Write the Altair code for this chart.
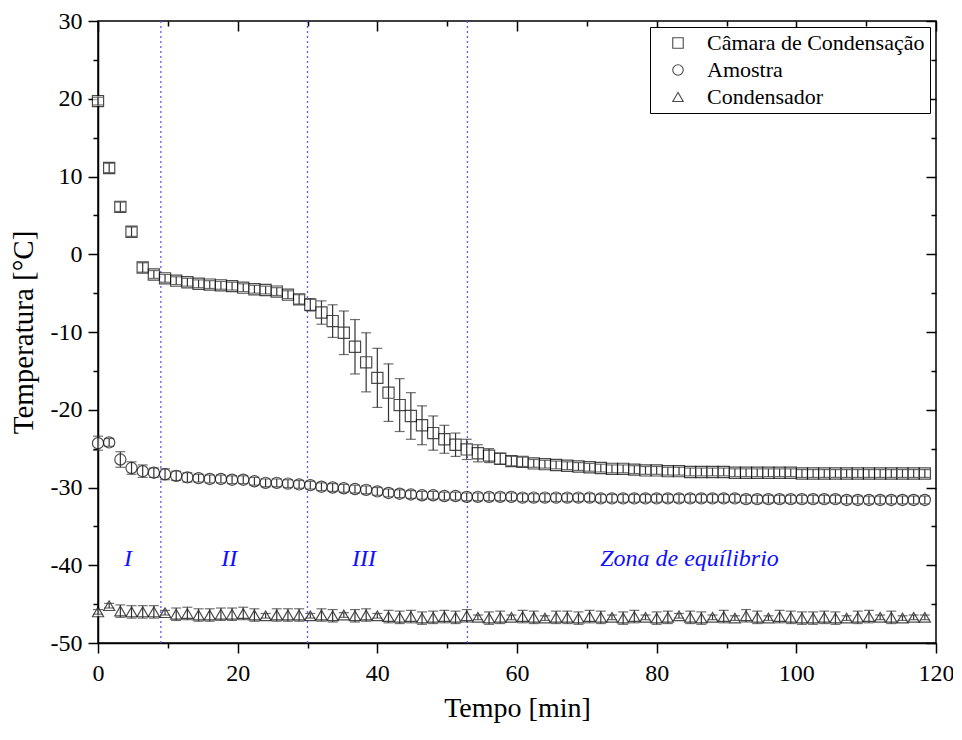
import altair as alt
import pandas as pd

# ---------------- data ----------------
tempo = [0.0, 1.6, 3.2, 4.8, 6.4, 8.0, 9.6, 11.2, 12.8, 14.4,
         16.0, 17.6, 19.2, 20.8, 22.4, 24.0, 25.6, 27.2, 28.8, 30.4,
         32.0, 33.6, 35.2, 36.8, 38.4, 40.0, 41.6, 43.2, 44.8, 46.4,
         48.0, 49.6, 51.2, 52.8, 54.4, 56.0, 57.6, 59.2, 60.8, 62.4,
         64.0, 65.6, 67.2, 68.8, 70.4, 72.0, 73.6, 75.2, 76.8, 78.4,
         80.0, 81.6, 83.2, 84.8, 86.4, 88.0, 89.6, 91.2, 92.8, 94.4,
         96.0, 97.6, 99.2, 100.8, 102.4, 104.0, 105.6, 107.2, 108.8, 110.4,
         112.0, 113.6, 115.2, 116.8, 118.4]

camara = [19.7, 11.1, 6.1, 2.9, -1.7, -2.6, -3.1, -3.4, -3.6, -3.8,
          -3.9, -4.0, -4.1, -4.3, -4.5, -4.6, -4.8, -5.2, -5.8, -6.5,
          -7.5, -8.6, -10.1, -11.9, -13.9, -15.9, -17.8, -19.4, -20.8, -22.0,
          -23.0, -23.8, -24.5, -25.1, -25.6, -25.9, -26.3, -26.6, -26.7, -26.9,
          -27.0, -27.1, -27.2, -27.3, -27.4, -27.5, -27.6, -27.6, -27.7, -27.8,
          -27.8, -27.9, -27.9, -28.0, -28.0, -28.0, -28.0, -28.1, -28.1, -28.1,
          -28.1, -28.1, -28.1, -28.2, -28.2, -28.2, -28.2, -28.2, -28.2, -28.2,
          -28.2, -28.2, -28.2, -28.2, -28.2]
camara_err = [0.5, 0.6, 0.6, 0.6, 0.6, 0.5, 0.5, 0.5, 0.5, 0.5,
              0.5, 0.5, 0.5, 0.5, 0.5, 0.5, 0.5, 0.5, 0.6, 0.8,
              1.5, 2.1, 2.8, 3.5, 3.8, 3.8, 3.7, 3.4, 3.0, 2.5,
              2.2, 1.8, 1.5, 1.3, 1.1, 0.9, 0.7, 0.6, 0.6, 0.5,
              0.5, 0.5, 0.5, 0.5, 0.5, 0.5, 0.5, 0.5, 0.5, 0.5,
              0.5, 0.5, 0.5, 0.5, 0.5, 0.5, 0.5, 0.5, 0.5, 0.5,
              0.5, 0.5, 0.5, 0.5, 0.5, 0.5, 0.5, 0.5, 0.5, 0.5,
              0.5, 0.5, 0.5, 0.5, 0.5]

amostra = [-24.3, -24.2, -26.4, -27.5, -27.9, -28.1, -28.3, -28.5, -28.7, -28.8,
           -28.9, -28.9, -29.0, -29.0, -29.2, -29.4, -29.4, -29.5, -29.6, -29.7,
           -29.9, -30.0, -30.1, -30.2, -30.3, -30.5, -30.7, -30.8, -30.9, -31.0,
           -31.0, -31.1, -31.1, -31.2, -31.2, -31.2, -31.2, -31.2, -31.3, -31.3,
           -31.3, -31.3, -31.3, -31.3, -31.3, -31.4, -31.4, -31.4, -31.4, -31.4,
           -31.4, -31.4, -31.4, -31.4, -31.4, -31.4, -31.4, -31.4, -31.5, -31.5,
           -31.5, -31.5, -31.5, -31.5, -31.5, -31.5, -31.5, -31.6, -31.6, -31.6,
           -31.6, -31.6, -31.6, -31.6, -31.6]
amostra_err = [0.9, 0.5, 1.0, 0.8, 0.8, 0.6, 0.7, 0.6, 0.6, 0.5,
               0.5, 0.5, 0.5, 0.5, 0.5, 0.5, 0.5, 0.5, 0.5, 0.5,
               0.5, 0.5, 0.5, 0.5, 0.5, 0.5, 0.5, 0.5, 0.5, 0.5,
               0.5, 0.5, 0.5, 0.5, 0.5, 0.5, 0.5, 0.5, 0.5, 0.5,
               0.5, 0.5, 0.5, 0.5, 0.5, 0.5, 0.5, 0.5, 0.5, 0.5,
               0.5, 0.5, 0.5, 0.5, 0.5, 0.5, 0.5, 0.5, 0.5, 0.5,
               0.5, 0.5, 0.5, 0.5, 0.5, 0.5, 0.5, 0.5, 0.5, 0.5,
               0.5, 0.5, 0.5, 0.5, 0.5]

condensador = [-46.0, -45.2, -45.9, -46.0, -46.0, -46.0, -46.1, -46.3, -46.2, -46.4,
               -46.4, -46.3, -46.3, -46.2, -46.4, -46.5, -46.4, -46.4, -46.4, -46.5,
               -46.4, -46.5, -46.4, -46.5, -46.4, -46.5, -46.6,
               -46.7, -46.6, -46.8, -46.7, -46.6, -46.7, -46.5, -46.7,
               -46.8, -46.7, -46.7, -46.6, -46.7, -46.8, -46.7, -46.7,
               -46.8, -46.6, -46.7, -46.7, -46.8, -46.6, -46.7, -46.8,
               -46.7, -46.5, -46.7, -46.8, -46.7, -46.6, -46.8, -46.5,
               -46.7, -46.8, -46.6, -46.7, -46.8, -46.8, -46.7, -46.8,
               -46.8, -46.7, -46.6, -46.7, -46.7, -46.8, -46.7, -46.7]
condensador_err = [0.3, 0.3, 0.8, 0.8, 0.8, 0.8, 0.3, 0.8, 0.8, 0.8,
                   0.8, 0.8, 0.8, 0.8, 0.8, 0.3, 0.8, 0.8, 0.8, 0.3,
                   0.8, 0.8, 0.3, 0.8, 0.8, 0.3, 0.8,
                   0.8, 0.8, 0.8, 0.8, 0.8, 0.8, 0.8, 0.3,
                   0.8, 0.8, 0.3, 0.8, 0.8, 0.3, 0.8, 0.8,
                   0.8, 0.8, 0.8, 0.3, 0.8, 0.8, 0.3, 0.8,
                   0.8, 0.3, 0.8, 0.8, 0.3, 0.8, 0.3, 0.8,
                   0.8, 0.3, 0.8, 0.8, 0.8, 0.8, 0.8, 0.8,
                   0.3, 0.8, 0.8, 0.3, 0.8, 0.3, 0.3, 0.3]

series_names = ["Câmara de Condensação", "Amostra", "Condensador"]
series_shapes = ["square", "circle", "triangle-up"]

boundaries = [9.0, 30.0, 52.9]
zone_labels = ["I", "II", "III", "Zona de equílibrio"]
zone_t = [4.3, 18.8, 38.1, 84.7]
zone_T = [-39.2, -39.2, -39.2, -39.2]

x_ticks = [0, 10, 20, 30, 40, 50, 60, 70, 80, 90, 100, 110, 120]
y_ticks = [-50, -45, -40, -35, -30, -25, -20, -15, -10, -5, 0, 5, 10, 15, 20, 25, 30]
x_major = [0, 20, 40, 60, 80, 100, 120]
x_minor = [10, 30, 50, 70, 90, 110]
y_major = [-50, -40, -30, -20, -10, 0, 10, 20, 30]
y_minor = [-45, -35, -25, -15, -5, 5, 15, 25]

# ---------------- tables ----------------
rows = []
for name, vals, errs in zip(series_names,
                            [camara, amostra, condensador],
                            [camara_err, amostra_err, condensador_err]):
    for t, v, e in zip(tempo, vals, errs):
        rows.append({"t": t, "T": v, "lo": v - e, "hi": v + e, "serie": name})
df = pd.DataFrame(rows)
df_b = pd.DataFrame({"t": boundaries})
df_z = pd.DataFrame({"t": zone_t, "T": zone_T, "txt": zone_labels})

FONT = "Liberation Serif"
xs = alt.Scale(domain=[0, 120], nice=False, zero=False)
ys = alt.Scale(domain=[-50, 30], nice=False, zero=False)
W, H = 838, 622

vlines = alt.Chart(df_b).mark_rule(color="#5a5aff", strokeWidth=1.3, strokeDash=[2, 3]).encode(
    x=alt.X("t:Q", scale=xs, axis=None)
)

points = alt.Chart(df).mark_point(filled=False, fill="white", stroke="black",
                                  strokeWidth=1.2, size=125).encode(
    x=alt.X("t:Q", scale=xs, axis=None),
    y=alt.Y("T:Q", scale=ys, axis=None),
    shape=alt.Shape("serie:N",
                    scale=alt.Scale(domain=series_names, range=series_shapes),
                    sort=series_names,
                    legend=alt.Legend(
                        title=None, orient="none", legendX=552, legendY=6,
                        strokeColor="black", fillColor="white",
                        padding=5, symbolOffset=12, symbolSize=110, symbolStrokeWidth=1.1,
                        labelFont=FONT, labelFontSize=22,
                        labelColor="black", labelOffset=18, rowPadding=5,
                        labelLimit=500,
                    )),
)

bars = alt.Chart(df).mark_rule(color="#333333", strokeWidth=1.2).encode(
    x=alt.X("t:Q", scale=xs, axis=None),
    y=alt.Y("lo:Q", scale=ys, axis=None),
    y2="hi:Q",
)
cap_lo = alt.Chart(df).mark_tick(color="#333333", orient="horizontal", size=10, thickness=1.2).encode(
    x=alt.X("t:Q", scale=xs, axis=None),
    y=alt.Y("lo:Q", scale=ys, axis=None),
)
cap_hi = alt.Chart(df).mark_tick(color="#333333", orient="horizontal", size=10, thickness=1.2).encode(
    x=alt.X("t:Q", scale=xs, axis=None),
    y=alt.Y("hi:Q", scale=ys, axis=None),
)

zones = alt.Chart(df_z).mark_text(font=FONT, fontSize=24, fontStyle="italic",
                                  color="#1010ff", baseline="middle").encode(
    x=alt.X("t:Q", scale=xs, axis=None),
    y=alt.Y("T:Q", scale=ys, axis=None),
    text="txt:N",
)

common_axis = dict(labelFont=FONT, titleFont=FONT, labelColor="black", titleColor="black",
                   tickColor="black", domainColor="black", tickWidth=1.5, domainWidth=1.5,
                   titleFontWeight="normal", grid=False)

def carrier(xaxis, yaxis):
    return alt.Chart(df).mark_point(opacity=0).encode(
        x=alt.X("t:Q", scale=xs, axis=xaxis),
        y=alt.Y("T:Q", scale=ys, axis=yaxis),
    )

main_axes = carrier(
    alt.Axis(orient="bottom", values=x_ticks, title="Tempo [min]",
             labelExpr="datum.value % 20 === 0 ? '' + datum.value : ''",
             tickSize={"condition": {"test": "datum.value % 20 !== 0", "value": 5}, "value": 10},
             labelFontSize=24, titleFontSize=28, labelPadding=8, titlePadding=9,
             labelFlush=False, labelOverlap=False, **common_axis),
    alt.Axis(orient="left", values=y_ticks, title="Temperatura [°C]",
             labelExpr="datum.value % 10 === 0 ? '' + datum.value : ''",
             tickSize={"condition": {"test": "datum.value % 10 !== 0", "value": 5}, "value": 10},
             labelFontSize=24, titleFontSize=29, labelPadding=6, titlePadding=12,
             labelFlush=False, labelOverlap=False, **common_axis),
)

inner_common = dict(labels=False, domain=False, title=None, tickColor="black",
                    tickWidth=1.5, grid=False)
top_right_major = carrier(
    alt.Axis(orient="top", values=x_major, tickSize=10, offset=-10, **inner_common),
    alt.Axis(orient="right", values=y_major, tickSize=10, offset=-10, **inner_common),
)
top_right_minor = carrier(
    alt.Axis(orient="top", values=x_minor, tickSize=5, offset=-5, **inner_common),
    alt.Axis(orient="right", values=y_minor, tickSize=5, offset=-5, **inner_common),
)

chart = alt.layer(
    vlines, points, bars, cap_lo, cap_hi, zones, main_axes, top_right_major, top_right_minor
).resolve_axis(x="independent", y="independent").properties(
    width=W, height=H,
    autosize=alt.AutoSizeParams(type="none"),
    padding={"left": 90, "top": 13, "right": 17, "bottom": 85},
    background="white",
).configure_view(stroke="black", strokeWidth=1.5).configure_legend(strokeWidth=1)

chart.save("out.html", embed_options={"renderer": "svg", "actions": False})
